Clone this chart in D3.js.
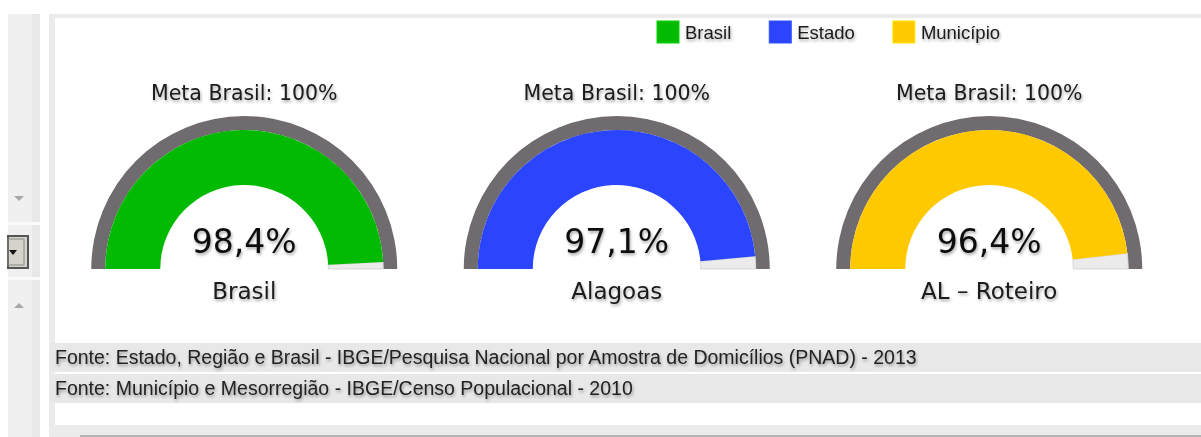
<!DOCTYPE html>
<html>
<head>
<meta charset="utf-8">
<script src="https://cdn.jsdelivr.net/npm/d3@7"></script>
<style>
  html, body { margin: 0; padding: 0; background: #fff; }
  svg { display: block; }
</style>
</head>
<body>
<script>
// data
const regions = ['Brasil', 'Alagoas', 'AL – Roteiro']
const values = [98.4, 97.1, 96.4]
const goals = [100, 100, 100]
const legendLabels = ['Brasil', 'Estado', 'Município']
const seriesColors = ['#02ba02', '#2b45ff', '#ffc900']
const sources = [
    'Fonte: Estado, Região e Brasil - IBGE/Pesquisa Nacional por Amostra de Domicílios (PNAD) - 2013',
    'Fonte: Município e Mesorregião - IBGE/Censo Populacional - 2010'
]

const W = 1201, H = 437
const baseY = 269
const rInner = 84, rValue = 139, rRing = 153

const ptBR = d3.formatLocale({decimal: ',', thousands: '.', grouping: [3], currency: ['R$', '']})
const fmtPct = ptBR.format('.1f')

const svg = d3.select('body').append('svg')
    .attr('width', W)
    .attr('height', H)
    .style('font-family', '"DejaVu Sans", sans-serif')

const defs = svg.append('defs')
defs.append('filter')
    .attr('id', 'shadow')
    .attr('x', '-10%').attr('y', '-30%')
    .attr('width', '130%').attr('height', '180%')
    .append('feDropShadow')
    .attr('dx', 1).attr('dy', 2)
    .attr('stdDeviation', 1.4)
    .attr('flood-color', '#000')
    .attr('flood-opacity', 0.35)

// ---- page frame (panel borders, side strip) ----
const frame = svg.append('g')
frame.append('rect').attr('x', 8).attr('y', 14).attr('width', 24).attr('height', H - 14).attr('fill', '#f0f0f0')
frame.append('rect').attr('x', 32).attr('y', 14).attr('width', 8).attr('height', H - 14).attr('fill', '#e8e8e8')
frame.append('rect').attr('x', 49).attr('y', 14).attr('width', W - 49).attr('height', 4).attr('fill', '#ebebeb')
frame.append('rect').attr('x', 49).attr('y', 14).attr('width', 6).attr('height', H - 14).attr('fill', '#ebebeb')
// little separators in the side strip
for (const y of [222, 277]) {
    frame.append('rect').attr('x', 8).attr('y', y).attr('width', 32).attr('height', 3).attr('fill', '#fafafa')
}
frame.append('path').attr('d', 'M14,196 h10 l-5,5 z').attr('fill', '#a8a8a8')
frame.append('path').attr('d', 'M14,308 h10 l-5,-5 z').attr('fill', '#a8a8a8')
frame.append('rect').attr('x', 8).attr('y', 236).attr('width', 20).attr('height', 32)
    .attr('fill', '#d6d3cc').attr('stroke', '#555').attr('stroke-width', 2)
frame.append('rect').attr('x', 8).attr('y', 239).attr('width', 16).attr('height', 26)
    .attr('fill', 'none').attr('stroke', '#8a8a8a').attr('stroke-width', 1)
frame.append('path').attr('d', 'M9,250 h8 l-4,5 z').attr('fill', '#111')
// bottom bar
frame.append('rect').attr('x', 49).attr('y', 425).attr('width', W - 49).attr('height', 12).attr('fill', '#ebebeb')
frame.append('rect').attr('x', 80).attr('y', 435).attr('width', W - 80).attr('height', 2).attr('fill', '#b4b4b4')

// ---- legend ----
const legend = svg.append('g').attr('transform', 'translate(657,21)')
let lx = 0
legendLabels.forEach((label, i) => {
    const item = legend.append('g').attr('transform', `translate(${lx},0)`)
    item.append('rect')
        .attr('width', 22).attr('height', 22)
        .attr('fill', seriesColors[i])
        .attr('stroke', d3.color(seriesColors[i]).brighter(0.4))
        .attr('stroke-width', 1)
    const t = item.append('text')
        .attr('x', 28).attr('y', 18)
        .attr('font-family', '"Liberation Sans", Arial, sans-serif')
        .attr('font-size', 18.5)
        .attr('fill', '#1a1a1a')
        .attr('filter', 'url(#shadow)')
        .text(label)
    lx += 28 + t.node().getComputedTextLength() + 38
})

// ---- gauges ----
const x = d3.scaleBand().domain(regions).range([58, 1175.5])
const angle = d3.scaleLinear().domain([0, 100]).range([-Math.PI / 2, Math.PI / 2])

const ringArc = d3.arc().innerRadius(rValue).outerRadius(rRing)
const valueArc = d3.arc().innerRadius(rInner).outerRadius(rValue)

const gauges = svg.append('g').selectAll('g')
    .data(regions.map((r, i) => ({region: r, value: values[i], goal: goals[i], color: seriesColors[i]})))
    .join('g')
    .attr('transform', d => `translate(${x(d.region) + x.bandwidth() / 2},${baseY})`)

gauges.append('path')
    .attr('d', d => ringArc({startAngle: angle(0), endAngle: angle(d.goal)}))
    .attr('fill', '#706b6e')

gauges.append('path')
    .attr('d', d => valueArc({startAngle: angle(d.value), endAngle: angle(d.goal)}))
    .attr('fill', '#ebebeb')
    .attr('stroke', '#cfcfcf')
    .attr('stroke-width', 0.8)

gauges.append('path')
    .attr('d', d => valueArc({startAngle: angle(0), endAngle: angle(d.value)}))
    .attr('fill', d => d.color)

gauges.append('text')
    .attr('text-anchor', 'middle')
    .attr('y', 100 - baseY)
    .attr('font-size', 20.5)
    .attr('fill', '#1a1a1a')
    .attr('filter', 'url(#shadow)')
    .text(d => `Meta Brasil: ${d.goal}%`)

gauges.append('text')
    .attr('text-anchor', 'middle')
    .attr('y', 253 - baseY)
    .attr('font-size', 33)
    .attr('fill', '#111')
    .attr('filter', 'url(#shadow)')
    .text(d => `${fmtPct(d.value)}%`)

gauges.append('text')
    .attr('text-anchor', 'middle')
    .attr('y', 299 - baseY)
    .attr('font-size', 23)
    .attr('fill', '#1a1a1a')
    .attr('filter', 'url(#shadow)')
    .text(d => d.region)

// ---- sources footer ----
const rows = svg.append('g').selectAll('g')
    .data(sources)
    .join('g')
    .attr('transform', (d, i) => `translate(49,${343 + i * 31})`)

rows.append('rect')
    .attr('width', W - 49).attr('height', 29)
    .attr('fill', '#e8e8e8')

rows.append('text')
    .attr('x', 6).attr('y', 21)
    .attr('font-family', '"Liberation Sans", Arial, sans-serif')
    .attr('font-size', 19.5)
    .attr('fill', '#222')
    .attr('filter', 'url(#shadow)')
    .text(d => d)
</script>
</body>
</html>
